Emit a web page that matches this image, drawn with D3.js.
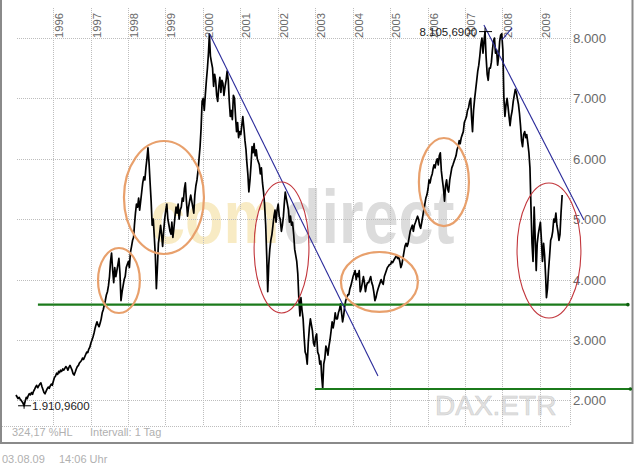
<!DOCTYPE html>
<html><head><meta charset="utf-8">
<script src="https://cdn.jsdelivr.net/npm/d3@7"></script>
<style>body{margin:0;background:#fff}svg{display:block;font-family:Arial,"Liberation Sans",sans-serif}</style>
</head><body><svg id="c" width="634" height="466"></svg>
<script>
// ---- data ----
const yearTicks = [1996,1997,1998,1999,2000,2001,2002,2003,2004,2005,2006,2007,2008,2009];
const valueTicks = [2000,3000,4000,5000,6000,7000,8000];
const sampleDays = [5,15,25]; // three readings per month
const dax1995 = [2090,2060,2030, 2050,2020,2000, 1980,1950,1911, 1990,2050,2030, 2080,2110,2090, 2130,2100,2150,
                 2180,2220,2250, 2210,2240,2270, 2290,2230,2180, 2130,2110,2150, 2190,2220,2200, 2240,2270,2250];
const dax1996 = [2320,2380,2400, 2450,2430,2480, 2460,2500,2480, 2520,2500,2530, 2560,2540,2500, 2550,2580,2540,
                 2500,2440,2420, 2470,2520,2560, 2580,2620,2640, 2660,2700,2680, 2720,2760,2800, 2790,2850,2880];
const dax1997 = [2950,3000,3050, 3120,3200,3260, 3300,3250,3220, 3280,3350,3450, 3500,3580,3650, 3750,3800,3900,
                 4050,4300,4440, 4150,3950,4200, 4050,4150,4250, 4350,4100,3650, 3800,3900,4000, 4050,4200,4250];
const dax1998 = [4300,4200,4450, 4550,4650,4700, 4900,5100,5250, 5200,5350,5150, 5300,5450,5600, 5700,5650,5850,
                 6000,6180,5950, 5600,5300,4900, 5000,4700,4400, 3850,4200,4600, 4750,4900,4750, 4550,4800,5000];
const dax1999 = [5150,5250,5000, 4900,4800,4750, 4950,4700,4850, 5050,5200,5100, 5250,5000,5150, 5200,5350,5300,
                 5500,5600,5300, 5050,5200,5300, 5400,5300,5200, 5100,5400,5550, 5650,5800,6000, 6200,6500,6950];
const dax2000 = [7000,6800,7050, 7300,7500,7750, 8065,7700,7600, 7500,7200,7400, 7300,7050,6950, 7200,7350,7100,
                 7300,7250,7050, 7200,7300,7450, 7300,6950,6700, 6800,6650,7050, 7000,6700,6450, 6600,6350,6450];
const dax2001 = [6400,6550,6700, 6500,6300,6150, 5950,5750,5450, 5650,5900,6200, 6100,6250,6050, 6150,6000,5950,
                 5900,5750,5850, 5600,5450,5250, 4900,4400,3800, 4250,4500,4650, 4750,4900,5050, 5150,4950,5150];
const dax2002 = [5250,5050,5000, 4800,4900,5050, 5250,5450,5350, 5250,5150,4950, 5050,4900,4950, 4750,4500,4400,
                 4300,4100,3700, 3400,3700,3500, 3350,3050,2800, 2750,2600,2950, 3200,3350,3250, 3150,2950,2900];
const dax2003 = [3050,3100,2800, 2750,2600,2650, 2400,2200,2600, 2700,2900,2850, 2750,2900,3000, 3150,3300,3200,
                 3300,3450,3350, 3350,3450,3500, 3600,3450,3300, 3400,3550,3650, 3700,3750,3750, 3850,3900,3970];
const dax2004 = [4050,4100,4150, 4000,4100,4050, 4150,3800,3850, 3950,4050,3950, 3800,3900,3950, 3950,4000,4050,
                 3950,3900,3800, 3650,3700,3780, 3850,3900,3950, 4000,3950,3920, 4050,4100,4150, 4200,4220,4250];
const dax2005 = [4250,4300,4280, 4320,4350,4380, 4400,4350,4380, 4300,4200,4250, 4350,4450,4550, 4600,4550,4600,
                 4700,4800,4850, 4900,4800,4900, 4950,5000,5050, 5000,4900,4850, 4950,5050,5150, 5250,5350,5400];
const dax2006 = [5500,5650,5600, 5700,5750,5850, 5900,5850,5950, 6000,5900,6050, 6100,5800,5650, 5500,5300,5550,
                 5650,5500,5450, 5650,5750,5850, 5900,5950,6000, 6050,6150,6200, 6300,6250,6350, 6400,6450,6600];
const dax2007 = [6650,6700,6800, 6850,6950,7000, 6700,6450,6800, 7000,7150,7300, 7450,7550,7700, 7900,8000,7750,
                 7950,8105,7700, 7400,7300,7500, 7500,7600,7800, 7950,8000,7750, 7800,7550,7700, 7950,8050,8070];
const dax2008 = [7800,7000,6700, 6900,7000,6850, 6700,6550,6700, 6800,6950,7050, 7150,7100,7000, 6900,6750,6550,
                 6300,6200,6400, 6450,6350,6400, 6250,6100,5850, 5200,4600,4300, 5200,4700,4150, 4600,4750,4850];
const dax2009 = [4950,4650,4300, 4600,4400,4050, 3700,3850,4150, 4400,4650,4700, 4800,5000,4950, 5100,4900,4800,
                 4650,4750,5100, 5400];
const yearlySeries = [[1995,dax1995],[1996,dax1996],[1997,dax1997],[1998,dax1998],[1999,dax1999],[2000,dax2000],
  [2001,dax2001],[2002,dax2002],[2003,dax2003],[2004,dax2004],[2005,dax2005],[2006,dax2006],[2007,dax2007],[2008,dax2008],[2009,dax2009]];

const lowMark = {date:"1995-03-25", value:1910.96, label:"1.910,9600"};
const highMark = {date:"2007-07-15", value:8105.69, label:"8.105,6900"};

// annotations drawn on the chart
const supportLines = [
  {from:"1995-08-07", to:"2011-05-08", value:3585},
  {from:"2002-12-29", to:"2011-06-01", value:2189}
];
const trendLines = [
  [["2000-03-07",8065],["2004-09-04",2404]],
  [["2007-07-04",8215],["2010-03-05",4987]],
  [["2007-12-27",7967],["2008-04-03",8166]]
];
// ellipses: [left date, right date, low value, high value, kind]
const ellipses = [
  ["1997-03-15","1998-04-27",3447,4523,"orange"],
  ["1997-11-23","2000-01-12",4424,6295,"orange"],
  ["2001-05-15","2002-11-01",3447,5616,"red"],
  ["2003-09-09","2005-09-28",3464,4457,"orange"],
  ["2005-10-08","2007-02-08",4887,6344,"orange"],
  ["2008-05-22","2010-02-04",3364,5599,"red"]
];
const watermarkParts = ["com","direct"];
const infoText1 = "324,17 %HL";
const infoText2 = "Intervall: 1 Tag";
const footDate = "03.08.09";
const footTime = "14:06 Uhr";

// ---- build ----
const parse = d3.timeParse("%Y-%m-%d");
const series = [];
yearlySeries.forEach(([yr, vals]) => vals.forEach((v,i) => {
  series.push({date:new Date(yr, Math.floor(i/3), sampleDays[i%3]), value:v});
}));

const svg = d3.select("#c");
const x = d3.scaleTime().domain([new Date(1996,0,1), new Date(2009,0,1)]).range([53,540]);
const y = d3.scaleLinear().domain([2000,8000]).range([400.4,38]);
const de = d3.formatLocale({decimal:",", thousands:".", grouping:[3], currency:["","€"]});
const fmt = de.format(",d");

const plotL = 17, plotR = 570, plotT = 8, plotB = 426;
const grid = "#bdbdbd";

// frame
svg.append("path").attr("d",`M1,0 V443 H632.5 V0`).attr("fill","none").attr("stroke","#8a8a8a").attr("stroke-width",2);

// watermark (two separate texts, sized so they do not overlap)
svg.append("text").attr("transform","translate(150,243) scale(1,1.22)").attr("font-size",63).attr("font-weight","bold")
  .attr("fill","#f8ebc4").text(watermarkParts[0]);
svg.append("text").attr("transform","translate(283,243) scale(1,1.22)").attr("font-size",63).attr("font-weight","bold")
  .attr("fill","#dcdcdc").text(watermarkParts[1]);
svg.append("text").attr("x",435).attr("y",415).attr("font-size",28).attr("fill","#e2e2e2")
  .attr("stroke","#cfcfcf").attr("stroke-width",0.6).text("DAX.ETR");

// grid
const gx = svg.append("g");
yearTicks.forEach(t => {
  const xx = Math.round(x(new Date(t,0,1)))+0.5;
  gx.append("line").attr("x1",xx).attr("x2",xx).attr("y1",plotT).attr("y2",plotB)
    .attr("stroke",grid).attr("stroke-dasharray","1,1");
  gx.append("text").attr("transform",`translate(${xx+9.5},38) rotate(-90)`).attr("font-size",11.3)
    .attr("fill","#6a6a6a").text(t);
});
gx.append("line").attr("x1",plotR+0.5).attr("x2",plotR+0.5).attr("y1",plotT).attr("y2",plotB)
  .attr("stroke",grid).attr("stroke-dasharray","1,1");
valueTicks.forEach(v => {
  const yy = Math.round(y(v))+0.5;
  gx.append("line").attr("x1",plotL).attr("x2",plotR).attr("y1",yy).attr("y2",yy)
    .attr("stroke",grid).attr("stroke-dasharray","1,1");
  gx.append("text").attr("x",573).attr("y",yy+4.5).attr("font-size",13.2).attr("fill","#6a6a6a").text(fmt(v));
});
gx.append("line").attr("x1",2).attr("x2",plotR).attr("y1",plotB+0.5).attr("y2",plotB+0.5)
  .attr("stroke",grid).attr("stroke-dasharray","1,1");

// price line
svg.append("path").datum(series)
  .attr("d", d3.line().x(d=>x(d.date)).y(d=>y(d.value)))
  .attr("fill","none").attr("stroke","#000").attr("stroke-width",1.7).attr("stroke-linejoin","round");

// support lines
supportLines.forEach(s => {
  const yy = y(s.value);
  svg.append("line").attr("x1",x(parse(s.from))).attr("x2",x(parse(s.to))).attr("y1",yy).attr("y2",yy)
    .attr("stroke","#1b7a1b").attr("stroke-width",2.2);
  svg.append("circle").attr("cx",x(parse(s.to))).attr("cy",yy).attr("r",1.8).attr("fill","#0f5f0f");
});
// trend lines
trendLines.forEach(l => {
  svg.append("line").attr("x1",x(parse(l[0][0]))).attr("y1",y(l[0][1]))
    .attr("x2",x(parse(l[1][0]))).attr("y2",y(l[1][1])).attr("stroke","#2a2a9a").attr("stroke-width",1.1);
});
// ellipses
ellipses.forEach(e => {
  const x0 = x(parse(e[0])), x1 = x(parse(e[1])), y0 = y(e[3]), y1 = y(e[2]);
  svg.append("ellipse").attr("cx",(x0+x1)/2).attr("cy",(y0+y1)/2).attr("rx",(x1-x0)/2).attr("ry",(y1-y0)/2)
    .attr("fill","none").attr("stroke", e[4]==="red" ? "#c2363c" : "#e8a06c")
    .attr("stroke-width", e[4]==="red" ? 1.1 : 2.2);
});

// extreme markers
[lowMark, highMark].forEach((m,i) => {
  const mx = x(parse(m.date)), my = y(m.value);
  svg.append("line").attr("x1",mx-6).attr("x2",mx+7).attr("y1",my).attr("y2",my).attr("stroke","#000");
  svg.append("line").attr("x1",mx).attr("x2",mx).attr("y1",my-4).attr("y2",my+3).attr("stroke","#000");
  svg.append("text").attr("x", i===0 ? mx+8 : mx-8).attr("y",my+4).attr("font-size",11.5)
    .attr("text-anchor", i===0 ? "start" : "end").attr("fill","#222").text(m.label);
});

// info texts
svg.append("text").attr("x",12).attr("y",436).attr("font-size",11).attr("fill","#b0b0b0").text(infoText1);
svg.append("text").attr("x",90).attr("y",436).attr("font-size",11).attr("fill","#b0b0b0").text(infoText2);
svg.append("text").attr("x",2).attr("y",463).attr("font-size",11).attr("fill","#b0b0b0").text(footDate);
svg.append("text").attr("x",59).attr("y",463).attr("font-size",11).attr("fill","#b0b0b0").text(footTime);
</script></body></html>
